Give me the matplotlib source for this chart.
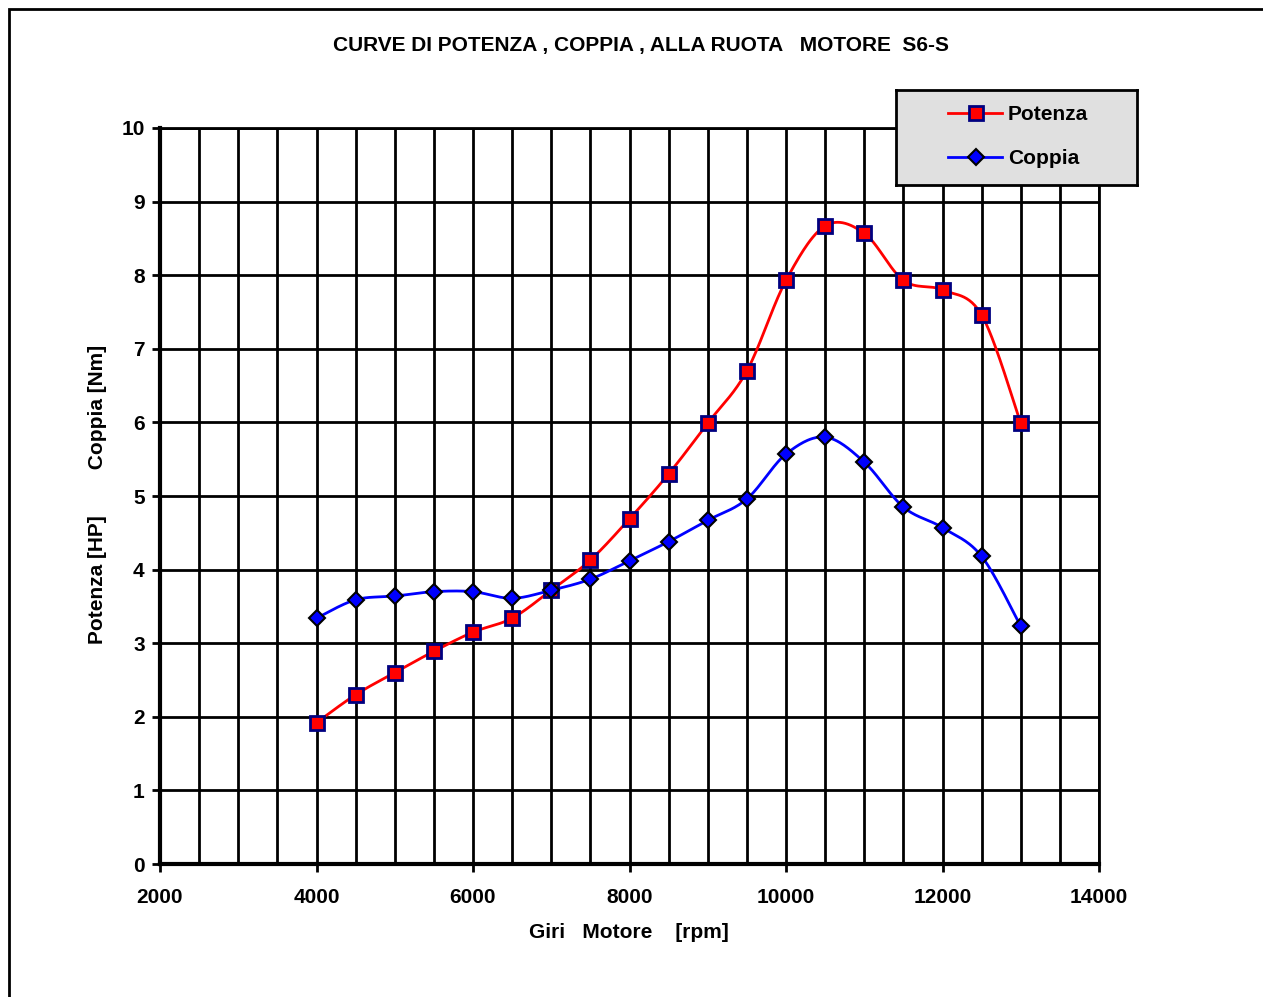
import numpy as np
import matplotlib
matplotlib.use("Agg")
import matplotlib.pyplot as plt
from matplotlib.patches import Rectangle

plt.rcParams["font.family"] = ["Liberation Sans", "DejaVu Sans"]
plt.rcParams["font.weight"] = "bold"

RPM = [4000, 4500, 5000, 5500, 6000, 6500, 7000, 7500, 8000, 8500,
       9000, 9500, 10000, 10500, 11000, 11500, 12000, 12500, 13000]
POTENZA = [1.92, 2.30, 2.60, 2.89, 3.15, 3.34, 3.72, 4.13, 4.69, 5.30,
           5.99, 6.70, 7.93, 8.67, 8.57, 7.93, 7.80, 7.46, 5.99]
COPPIA = [3.34, 3.59, 3.64, 3.70, 3.70, 3.61, 3.72, 3.87, 4.12, 4.38,
          4.67, 4.96, 5.57, 5.80, 5.46, 4.85, 4.57, 4.18, 3.23]

TITLE = "CURVE DI POTENZA , COPPIA , ALLA RUOTA   MOTORE  S6-S"
FS = 15


def smooth(x, y, n=30):
    # excel-like smoothed line: bezier with catmull-rom control points
    x = np.asarray(x, float); y = np.asarray(y, float)
    px = np.concatenate([[x[0]], x, [x[-1]]])
    py = np.concatenate([[y[0]], y, [y[-1]]])
    xs, ys = [], []
    t = np.linspace(0, 1, n)
    for i in range(1, len(px) - 2):
        p0 = np.array([px[i], py[i]]); p3 = np.array([px[i + 1], py[i + 1]])
        c1 = p0 + (np.array([px[i + 1], py[i + 1]]) - np.array([px[i - 1], py[i - 1]])) / 6
        c2 = p3 - (np.array([px[i + 2], py[i + 2]]) - np.array([px[i], py[i]])) / 6
        b = ((1 - t) ** 3)[:, None] * p0 + (3 * (1 - t) ** 2 * t)[:, None] * c1 \
            + (3 * (1 - t) * t ** 2)[:, None] * c2 + (t ** 3)[:, None] * p3
        xs.extend(b[:, 0]); ys.extend(b[:, 1])
    return xs, ys


fig = plt.figure(figsize=(12.63, 9.97), dpi=100)
fig.patches.append(Rectangle((9 / 1263, -0.1), 1.2, 1.1 - 9 / 997,
                             transform=fig.transFigure, fill=False,
                             edgecolor="black", linewidth=2))
ax = fig.add_axes([160 / 1263, 1 - 864 / 997, 939 / 1263, 736 / 997])

ax.set_xlim(2000, 14000)
ax.set_ylim(0, 10)
ax.set_xticks(range(2000, 14001, 2000))
ax.set_xticks(range(2000, 14001, 500), minor=True)
ax.set_yticks(range(0, 11))
ax.grid(True, which="both", color="black", linewidth=2)
ax.tick_params(axis="x", which="minor", length=0)
ax.tick_params(axis="both", which="major", direction="out", length=6, width=2,
               labelsize=FS)
ax.tick_params(axis="x", pad=11)
ax.tick_params(axis="y", pad=5)
ax.spines["top"].set_linewidth(2)
ax.spines["right"].set_linewidth(2)
ax.spines["left"].set_linewidth(3)
ax.spines["bottom"].set_linewidth(3)
for lab in ax.get_xticklabels() + ax.get_yticklabels():
    lab.set_fontweight("bold")

sx, sy = smooth(RPM, POTENZA)
ax.plot(sx, sy, color="red", linewidth=2, zorder=3)
ax.plot(RPM, POTENZA, linestyle="none", marker="s", markersize=10,
        markerfacecolor="red", markeredgecolor="#000080", markeredgewidth=2, zorder=4)
sx, sy = smooth(RPM, COPPIA)
ax.plot(sx, sy, color="blue", linewidth=2, zorder=3)
ax.plot(RPM, COPPIA, linestyle="none", marker="D", markersize=8,
        markerfacecolor="blue", markeredgecolor="black", markeredgewidth=1.5, zorder=4)

fig.text(629 / 1263, 1 - 932 / 997, "Giri   Motore    [rpm]", ha="center", va="center",
         fontsize=FS, fontweight="bold")
fig.text(98 / 1263, 1 - 494 / 997, "Potenza [HP]        Coppia [Nm]", rotation=90,
         ha="center", va="center", fontsize=FS, fontweight="bold")
fig.text(641 / 1263, 1 - 46 / 997, TITLE, ha="center", va="center",
         fontsize=FS, fontweight="bold")

# legend box
lax = fig.add_axes([896 / 1263, 1 - 185 / 997, 241 / 1263, 95 / 997])
lax.set_xlim(0, 241); lax.set_ylim(95, 0)
lax.set_facecolor("#e0e0e0")
for s in lax.spines.values():
    s.set_linewidth(2)
lax.set_xticks([]); lax.set_yticks([])
lax.plot([52, 106], [23, 23], color="red", linewidth=2)
lax.plot([80], [23], marker="s", markersize=10, markerfacecolor="red",
         markeredgecolor="#000080", markeredgewidth=2)
lax.plot([52, 106], [67, 67], color="blue", linewidth=2)
lax.plot([80], [67], marker="D", markersize=8, markerfacecolor="blue",
         markeredgecolor="black", markeredgewidth=1.5)
lax.text(112, 24, "Potenza", va="center", ha="left", fontsize=FS, fontweight="bold")
lax.text(112, 68, "Coppia", va="center", ha="left", fontsize=FS, fontweight="bold")

fig.savefig("out.png", dpi=100)
